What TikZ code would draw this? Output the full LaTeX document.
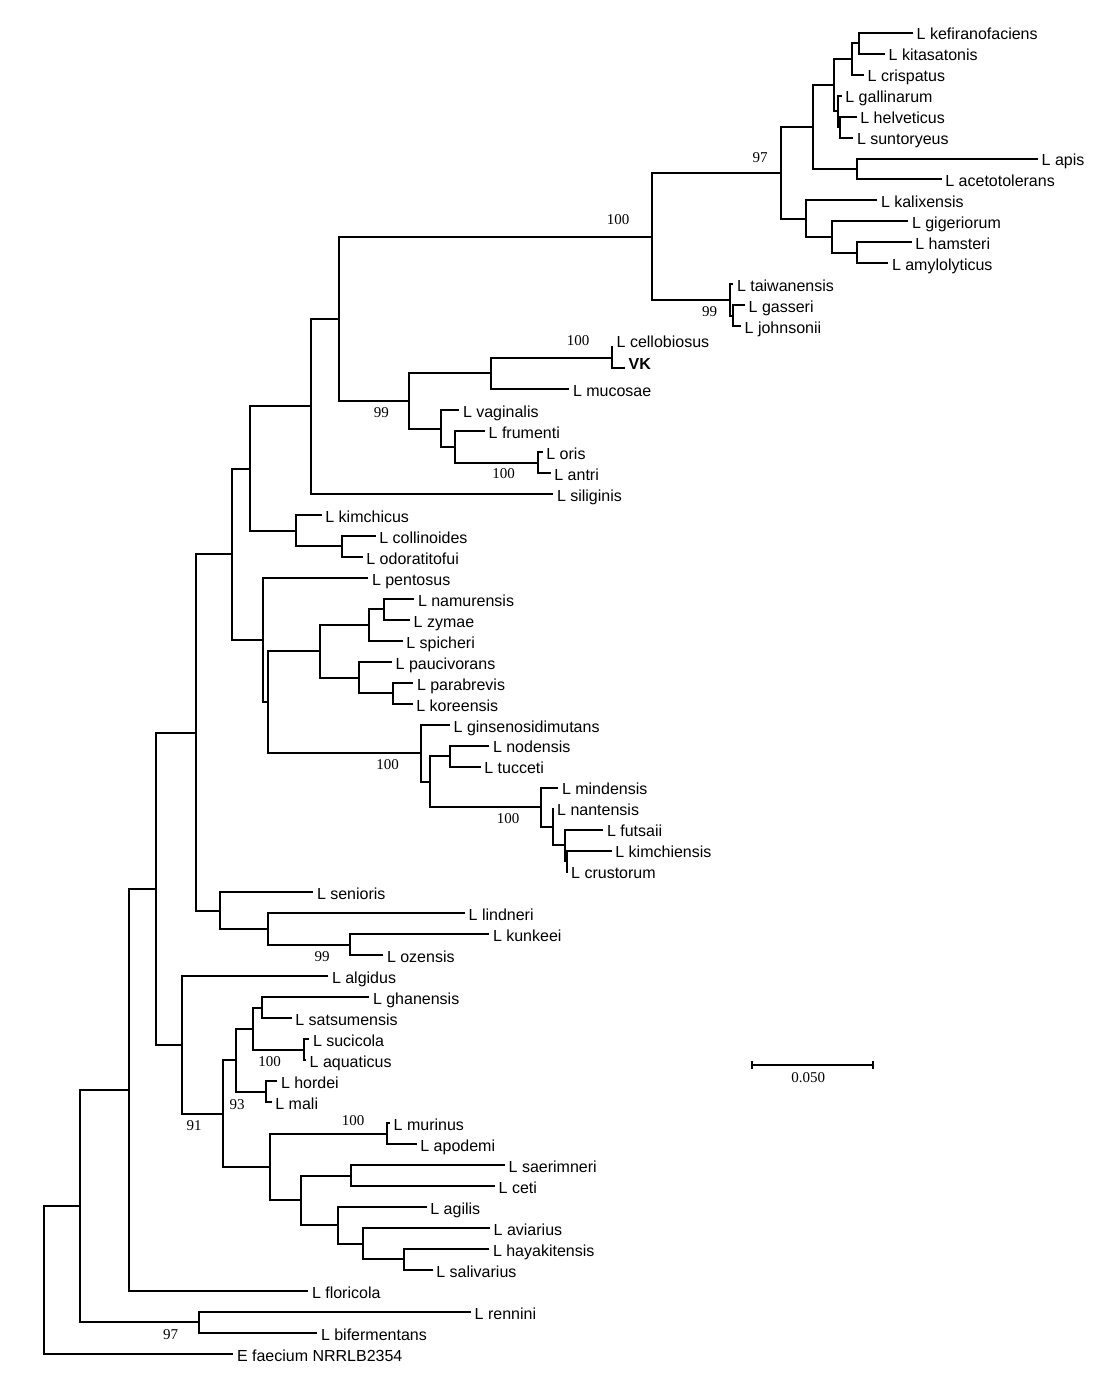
\documentclass[tikz,border=0pt]{standalone}
\usepackage{fontspec}
\setmainfont{Liberation Sans}
\newfontfamily\serifnum{Liberation Serif}
\usetikzlibrary{calc}
\tikzset{
  br/.style={line width=2pt, line join=miter, line cap=butt},
  taxon/.style={anchor=base west, inner sep=0pt, font=\fontsize{16}{19}\selectfont},
  boot/.style={anchor=center, inner sep=0pt, font=\serifnum\fontsize{15}{18}\selectfont},
}
\newcommand\leafat[5][0]{\coordinate (#2) at (#4,{32.7+(#3-1)*20.97});
  \node[taxon] (#2-t) at ([xshift=3.5pt,yshift={-7.3pt+#1pt}]#2) {#5};}
\newcommand\inode[4]{\coordinate (#1-m) at ($(#3)!0.5!(#4)$);
  \coordinate (#1) at (#2,0 |- #1-m);
  \draw[br] (#3) -| (#1) |- (#4);}
\begin{document}
\begin{tikzpicture}[x=1pt,y=-1pt]
\fill[white] (0,0) rectangle (1110,1388);
\useasboundingbox (0,0) rectangle (1110,1388);
% leaves
\leafat{kef}{1}{913}{L kefiranofaciens}
\leafat{kit}{2}{885}{L kitasatonis}
\leafat{cri}{3}{864}{L crispatus}
\leafat{gal}{4}{841.7}{L gallinarum}
\leafat{hel}{5}{856.7}{L helveticus}
\leafat{sun}{6}{853.3}{L suntoryeus}
\leafat{api}{7}{1038}{L apis}
\leafat{ace}{8}{941.7}{L acetotolerans}
\leafat{kal}{9}{877.3}{L kalixensis}
\leafat{gig}{10}{908.3}{L gigeriorum}
\leafat{ham}{11}{911.7}{L hamsteri}
\leafat{amy}{12}{888.3}{L amylolyticus}
\leafat{tai}{13}{733.3}{L taiwanensis}
\leafat{gas}{14}{745}{L gasseri}
\leafat{joh}{15}{741}{L johnsonii}
\leafat[7.5]{cel}{16}{613}{L cellobiosus}
\leafat[6.5]{vk}{17}{625}{\textbf{VK}}
\leafat{muc}{18}{569.3}{L mucosae}
\leafat{vag}{19}{459.3}{L vaginalis}
\leafat{fru}{20}{485}{L frumenti}
\leafat{ori}{21}{542.7}{L oris}
\leafat{ant}{22}{550.7}{L antri}
\leafat{sil}{23}{553.3}{L siliginis}
\leafat{kic}{24}{321.7}{L kimchicus}
\leafat{col}{25}{375.7}{L collinoides}
\leafat{odo}{26}{362.7}{L odoratitofui}
\leafat{pen}{27}{368.3}{L pentosus}
\leafat{nam}{28}{414.3}{L namurensis}
\leafat{zym}{29}{410}{L zymae}
\leafat{spi}{30}{402.7}{L spicheri}
\leafat{pau}{31}{392}{L paucivorans}
\leafat{par}{32}{413.3}{L parabrevis}
\leafat{kor}{33}{412.7}{L koreensis}
\leafat{gin}{34}{450}{L ginsenosidimutans}
\leafat{nod}{35}{489.3}{L nodensis}
\leafat{tuc}{36}{480.7}{L tucceti}
\leafat{min}{37}{558.3}{L mindensis}
\leafat{nan}{38}{553.5}{L nantensis}
\leafat{fut}{39}{603.3}{L futsaii}
\leafat{kie}{40}{611.7}{L kimchiensis}
\leafat{cru}{41}{567.5}{L crustorum}
\leafat{sen}{42}{313.3}{L senioris}
\leafat{lin}{43}{465}{L lindneri}
\leafat{kun}{44}{489.3}{L kunkeei}
\leafat{oze}{45}{383.3}{L ozensis}
\leafat{alg}{46}{328.3}{L algidus}
\leafat{gha}{47}{369.3}{L ghanensis}
\leafat{sat}{48}{291.7}{L satsumensis}
\leafat{suc}{49}{309.3}{L sucicola}
\leafat{aqu}{50}{306}{L aquaticus}
\leafat{hor}{51}{277.3}{L hordei}
\leafat{mal}{52}{271.7}{L mali}
\leafat{mur}{53}{390}{L murinus}
\leafat{apo}{54}{416.7}{L apodemi}
\leafat{sae}{55}{505}{L saerimneri}
\leafat{cet}{56}{495}{L ceti}
\leafat{agi}{57}{426.7}{L agilis}
\leafat{avi}{58}{490}{L aviarius}
\leafat{hay}{59}{489.3}{L hayakitensis}
\leafat{sal}{60}{432.7}{L salivarius}
\leafat{flo}{61}{308.3}{L floricola}
\leafat{ren}{62}{471}{L rennini}
\leafat{bif}{63}{317.3}{L bifermentans}
\leafat{efa}{64}{233.3}{E faecium NRRLB2354}
% internal nodes
\inode{nO1111}{859}{kef}{kit}
\inode{nO111}{851.7}{nO1111}{cri}
\inode{nO1121}{840}{hel}{sun}
\inode{nO112}{837.7}{gal}{nO1121}
\inode{nO11}{834}{nO111}{nO112}
\inode{nO12}{856.7}{api}{ace}
\inode{nO1}{813.3}{nO11}{nO12}
\inode{nO211}{857.3}{ham}{amy}
\inode{nO21}{832.3}{gig}{nO211}
\inode{nO2}{805.7}{kal}{nO21}
\inode{nO}{780.7}{nO1}{nO2}
\inode{nQ1}{732.7}{gas}{joh}
\inode{nQ}{730}{tai}{nQ1}
\inode{nM}{651.7}{nO}{nQ}
\inode{nN11}{612.3}{cel}{vk}
\inode{nN1}{490.7}{nN11}{muc}
\inode{nN211}{538.3}{ori}{ant}
\inode{nN21}{455}{fru}{nN211}
\inode{nN2}{441}{vag}{nN21}
\inode{nN}{409}{nN1}{nN2}
\inode{nL}{339}{nM}{nN}
\inode{nJ}{311}{nL}{sil}
\inode{nK1}{341.7}{col}{odo}
\inode{nK}{295.7}{kic}{nK1}
\inode{nI}{250}{nJ}{nK}
\inode{nP1111}{384.3}{nam}{zym}
\inode{nP111}{369}{nP1111}{spi}
\inode{nP1121}{392.7}{par}{kor}
\inode{nP112}{359}{pau}{nP1121}
\inode{nP11}{320}{nP111}{nP112}
\inode{nP1211}{450}{nod}{tuc}
\inode{nP1212111}{566.7}{kie}{cru}
\inode{nP121211}{565}{fut}{nP1212111}
\inode{nP12121}{552.7}{nan}{nP121211}
\inode{nP1212}{541}{min}{nP12121}
\inode{nP121}{430}{nP1211}{nP1212}
\inode{nP12}{420.7}{gin}{nP121}
\inode{nP1}{267.7}{nP11}{nP12}
\inode{nP}{262.7}{pen}{nP1}
\inode{nG}{231.7}{nI}{nP}
\inode{nH11}{350}{kun}{oze}
\inode{nH1}{267.7}{lin}{nH11}
\inode{nH}{220}{sen}{nH1}
\inode{nD}{196}{nG}{nH}
\inode{nF1111}{261.7}{gha}{sat}
\inode{nF1112}{304.3}{suc}{aqu}
\inode{nF111}{253.3}{nF1111}{nF1112}
\inode{nF112}{265.7}{hor}{mal}
\inode{nF11}{236}{nF111}{nF112}
\inode{nF121}{386.7}{mur}{apo}
\inode{nF1221}{350.7}{sae}{cet}
\inode{nF122211}{404.3}{hay}{sal}
\inode{nF12221}{363.3}{avi}{nF122211}
\inode{nF1222}{337.7}{agi}{nF12221}
\inode{nF122}{300.7}{nF1221}{nF1222}
\inode{nF12}{270}{nF121}{nF122}
\inode{nF1}{222.7}{nF11}{nF12}
\inode{nF}{181.7}{alg}{nF1}
\inode{nC}{156}{nD}{nF}
\inode{nB}{129}{nC}{flo}
\inode{nRB}{199}{ren}{bif}
\inode{nA}{80}{nB}{nRB}
\inode{nR}{44}{nA}{efa}
% bootstrap values
\node[boot] (b1) at (760,157.2) {97};
\node[boot] (b2) at (618,219.5) {100};
\node[boot] (b3) at (709.7,311.7) {99};
\node[boot] (b4) at (578,340.2) {100};
\node[boot] (b5) at (381.3,412.8) {99};
\node[boot] (b6) at (503.7,473.8) {100};
\node[boot] (b7) at (387.5,765) {100};
\node[boot] (b8) at (508,818.3) {100};
\node[boot] (b9) at (322.2,956.7) {99};
\node[boot] (b10) at (269.7,1061.7) {100};
\node[boot] (b11) at (237.2,1104.2) {93};
\node[boot] (b12) at (194.2,1125.8) {91};
\node[boot] (b13) at (353,1120.8) {100};
\node[boot] (b14) at (170.7,1335) {97};
% scale bar
\coordinate (sbL) at (751.7,1065);
\coordinate (sbR) at (873.3,1065);
\draw[br] (sbL) -- (sbR);
\draw[br] ([yshift=4pt]sbL) -- ([yshift=-4pt]sbL);
\draw[br] ([yshift=4pt]sbR) -- ([yshift=-4pt]sbR);
\node[boot] (sbT) at (808.3,1077.8) {0.050};
\end{tikzpicture}
\end{document}
